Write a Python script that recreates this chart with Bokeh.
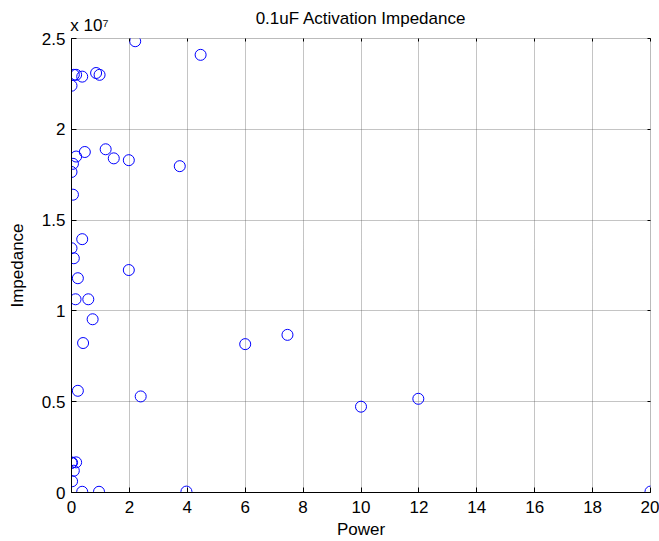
from bokeh.plotting import figure
from bokeh.models import Range1d, FixedTicker, CustomJSTickFormatter, LinearAxis, Grid
from bokeh.embed import file_html
from bokeh.resources import INLINE
import numpy as np

# Data
power = [2.2, 4.46, 0.0, 0.08, 0.16, 0.37, 0.85, 0.97, 0.46, 1.18, 1.46, 1.98,
         0.16, 0.05, 0.0, 0.05, 3.74, 0.37, 0.0, 0.08, 1.98, 0.22, 0.14, 0.58,
         0.73, 0.40, 6.0, 7.46, 10.0, 11.98, 20.0, 0.22, 2.39, 0.0, 0.02, 0.16,
         0.08, 0.02, 0.37, 0.95, 3.97]
impedance = [24850000, 24100000, 22400000, 23000000, 23000000, 22900000,
             23100000, 23000000, 18750000, 18900000, 18400000, 18300000,
             18500000, 18100000, 17650000, 16400000, 17970000, 13950000,
             13450000, 12900000, 12250000, 11800000, 10640000, 10640000,
             9540000, 8230000, 8170000, 8680000, 4725000, 5160000, 50000,
             5600000, 5290000, 1630000, 1650000, 1660000, 1200000, 620000,
             40000, 40000, 50000]
x_ticks = [0, 2, 4, 6, 8, 10, 12, 14, 16, 18, 20]
y_ticks = [0, 0.5, 1, 1.5, 2, 2.5]
scale_exp = 7
title_text = "0.1uF Activation Impedance"
exp_text = "x 10\u2077"
exp_anchor = [0.62]   # x-position (data units) where the exponent note is centred

y_vals = np.array(impedance) / 10 ** scale_exp

FONT = "Liberation Sans"
FS = "17px"

p = figure(width=659, height=541, output_backend="svg", toolbar_location=None,
           x_range=Range1d(0, 20), y_range=Range1d(0, 2.5),
           min_border_left=71, min_border_right=9, min_border_top=38,
           min_border_bottom=48, x_axis_type=None, y_axis_type=None)
p.background_fill_color = "white"
p.border_fill_color = "white"
p.outline_line_color = "#777777"
p.outline_line_dash = "1 1"

fmt = CustomJSTickFormatter(code="return String(Math.round(tick*10)/10);")
blank = CustomJSTickFormatter(code="return '';")
exp_fmt = CustomJSTickFormatter(args=dict(t=exp_text), code="return t;")

xa = LinearAxis(ticker=FixedTicker(ticks=x_ticks), formatter=fmt, axis_label="Power")
ya = LinearAxis(ticker=FixedTicker(ticks=y_ticks), formatter=fmt, axis_label="Impedance")
tt = LinearAxis(ticker=FixedTicker(ticks=x_ticks), formatter=blank)   # top ticks only
ta = LinearAxis(ticker=FixedTicker(ticks=exp_anchor), formatter=exp_fmt, axis_label=title_text)
ra = LinearAxis(ticker=FixedTicker(ticks=y_ticks), formatter=blank)
for ax in (xa, ya, tt, ta, ra):
    ax.major_tick_in = 5
    ax.major_tick_out = 0
    ax.minor_tick_line_color = None
    ax.axis_line_color = "black"
    ax.major_tick_line_color = "black"
    ax.major_label_text_font = FONT
    ax.major_label_text_font_size = FS
    ax.major_label_text_color = "black"
    ax.axis_label_text_font = FONT
    ax.axis_label_text_font_size = FS
    ax.axis_label_text_font_style = "normal"
    ax.axis_label_text_color = "black"
tt.axis_line_color = None
tt.major_tick_in = 3
tt.major_label_text_font_size = "0px"
tt.major_label_standoff = 0
ta.axis_line_color = None
ta.major_tick_line_color = None
ta.major_tick_in = 0
ta.major_label_standoff = 4
ta.axis_label_standoff = -15
ra.axis_line_color = None
ra.major_tick_in = 3
ra.major_label_standoff = 0
xa.major_label_standoff = 8
xa.axis_label_standoff = 4
ya.major_label_standoff = 6
ya.axis_label_standoff = 12
p.add_layout(xa, "below")
p.add_layout(ya, "left")
p.add_layout(tt, "above")
p.add_layout(ta, "above")
p.add_layout(ra, "right")

p.xgrid.visible = False
p.ygrid.visible = False
gx = Grid(dimension=0, ticker=xa.ticker, grid_line_color="#555555",
          grid_line_dash="1 1", grid_line_alpha=0.7)
gy = Grid(dimension=1, ticker=ya.ticker, grid_line_color="#555555",
          grid_line_dash="1 1", grid_line_alpha=0.7)
p.add_layout(gx)
p.add_layout(gy)

p.scatter(power, y_vals, marker="circle", size=11, fill_color=None,
          line_color="#0000ff", line_width=1)

open("out.html", "w").write(file_html(p, INLINE))
